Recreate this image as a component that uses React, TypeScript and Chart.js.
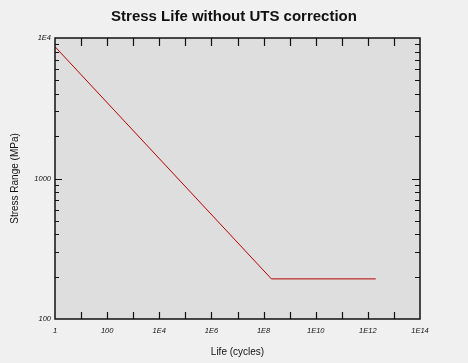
import React, { useEffect, useRef } from "react";
import { Chart, registerables } from "chart.js";

Chart.register(...registerables);

const TITLE = "Stress Life without UTS correction";
const X_TITLE = "Life (cycles)";
const Y_TITLE = "Stress Range (MPa)";

// S-N curve points (Life in cycles, Stress range in MPa)
const lifeCycles = [1, 2e8, 2e12];
const stressRange = [8670, 193, 193];

const xLabelTicks = [1, 1e2, 1e4, 1e6, 1e8, 1e10, 1e12, 1e14];
const xLabelText = ["1", "100", "1E4", "1E6", "1E8", "1E10", "1E12", "1E14"];
const yLabelTicks = [100, 1000, 10000];
const yLabelText = ["100", "1000", "1E4"];

const xMajorMarks = [1e1, 1e2, 1e3, 1e4, 1e5, 1e6, 1e7, 1e8, 1e9, 1e10, 1e11, 1e12, 1e13];
const yMajorMarks = [1000];
const yMinorMarks = [200, 300, 400, 500, 600, 700, 800, 900, 2000, 3000, 4000, 5000, 6000, 7000, 8000, 9000];

const framePlugin = {
  id: "frame",
  beforeDraw(chart: any) {
    const { ctx, chartArea: a } = chart;
    ctx.save();
    ctx.fillStyle = "#f0f0f0";
    ctx.fillRect(0, 0, chart.width, chart.height);
    ctx.fillStyle = "#dedede";
    ctx.fillRect(a.left, a.top, a.right - a.left, a.bottom - a.top);
    ctx.restore();
  },
  afterDraw(chart: any) {
    const { ctx, chartArea: a, scales } = chart;
    const xs = scales.x;
    const ys = scales.y;
    ctx.save();
    ctx.strokeStyle = "#111";
    ctx.lineWidth = 1.5;
    ctx.strokeRect(a.left, a.top, a.right - a.left, a.bottom - a.top);
    ctx.lineWidth = 1.2;
    ctx.beginPath();
    xMajorMarks.forEach((v) => {
      const px = Math.round(xs.getPixelForValue(v)) + 0.5;
      ctx.moveTo(px, a.bottom);
      ctx.lineTo(px, a.bottom - 7);
      ctx.moveTo(px, a.top);
      ctx.lineTo(px, a.top + 8);
    });
    yMajorMarks.forEach((v) => {
      const py = Math.round(ys.getPixelForValue(v)) + 0.5;
      ctx.moveTo(a.left, py);
      ctx.lineTo(a.left + 7, py);
      ctx.moveTo(a.right, py);
      ctx.lineTo(a.right - 8, py);
    });
    yMinorMarks.forEach((v) => {
      const py = Math.round(ys.getPixelForValue(v)) + 0.5;
      ctx.moveTo(a.left, py);
      ctx.lineTo(a.left + 4, py);
      ctx.moveTo(a.right, py);
      ctx.lineTo(a.right - 5, py);
    });
    ctx.stroke();
    ctx.restore();
  },
};

export default function App() {
  const ref = useRef<HTMLCanvasElement | null>(null);

  useEffect(() => {
    document.body.style.margin = "0";
    const canvas = ref.current;
    if (!canvas) return;
    const tickFont = { family: "'Liberation Sans', Arial, sans-serif", size: 7.5, style: "italic" as const };
    const chart = new Chart(canvas, {
      type: "scatter",
      data: {
        datasets: [
          {
            data: lifeCycles.map((x, i) => ({ x, y: stressRange[i] })),
            showLine: true,
            borderColor: "#b80000",
            borderWidth: 1,
            pointRadius: 0,
            fill: false,
          },
        ],
      },
      options: {
        animation: false,
        responsive: false,
        devicePixelRatio: 1,
        layout: { padding: 0 },
        plugins: {
          legend: { display: false },
          tooltip: { enabled: false },
          title: {
            display: true,
            text: TITLE,
            color: "#111",
            font: { family: "'Liberation Sans', Arial, sans-serif", size: 15, weight: "bold" },
            padding: { top: 8, bottom: 12 },
          },
        },
        scales: {
          x: {
            type: "logarithmic",
            min: 1,
            max: 1e14,
            grid: { display: false, drawTicks: false },
            border: { display: false },
            afterBuildTicks: (s: any) => {
              s.ticks = xLabelTicks.map((v) => ({ value: v }));
            },
            afterFit: (s: any) => {
              s.height = 44;
            },
            ticks: {
              autoSkip: false,
              maxRotation: 0,
              padding: 7,
              color: "#111",
              font: tickFont,
              callback: (v: any) => {
                const i = xLabelTicks.indexOf(Number(v));
                return i >= 0 ? xLabelText[i] : "";
              },
            },
            title: {
              display: true,
              text: X_TITLE,
              color: "#111",
              font: { family: "'Liberation Sans', Arial, sans-serif", size: 10 },
              padding: { top: 0, bottom: 5 },
            },
          },
          y: {
            type: "logarithmic",
            min: 100,
            max: 10000,
            grid: { display: false, drawTicks: false },
            border: { display: false },
            afterBuildTicks: (s: any) => {
              s.ticks = yLabelTicks.map((v) => ({ value: v }));
            },
            afterFit: (s: any) => {
              s.width = 55;
            },
            ticks: {
              autoSkip: false,
              padding: 4,
              color: "#111",
              font: tickFont,
              callback: (v: any) => {
                const i = yLabelTicks.indexOf(Number(v));
                return i >= 0 ? yLabelText[i] : "";
              },
            },
            title: {
              display: true,
              text: Y_TITLE,
              color: "#111",
              font: { family: "'Liberation Sans', Arial, sans-serif", size: 10 },
              padding: { top: 9, bottom: 0 },
            },
          },
          yRight: {
            type: "linear",
            position: "right",
            display: true,
            grid: { display: false, drawTicks: false },
            border: { display: false },
            ticks: { display: false },
            afterFit: (s: any) => {
              s.width = 48;
            },
          },
        },
      },
      plugins: [framePlugin],
    });
    return () => chart.destroy();
  }, []);

  return (
    <div style={{ width: 468, height: 363 }}>
      <canvas ref={ref} width={468} height={363} style={{ display: "block" }} />
    </div>
  );
}
